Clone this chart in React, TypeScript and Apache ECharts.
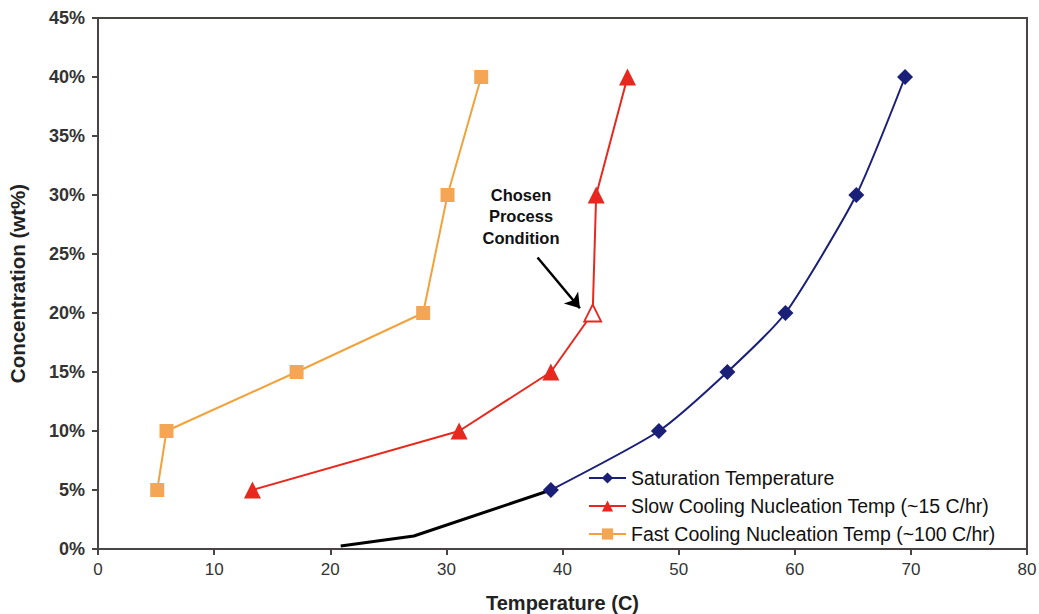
import React, { useEffect, useRef } from "react";
import * as echarts from "echarts";

const concentration = [5, 10, 15, 20, 30, 40];
const saturationTemp = [39.0, 48.3, 54.2, 59.2, 65.3, 69.5];
const slowCoolingTemp = [13.3, 31.1, 39.0, 42.6, 42.9, 45.6];
const fastCoolingTemp = [5.1, 5.9, 17.1, 28.0, 30.1, 33.0];
const extrapTemp = [20.9, 27.2, 39.0];
const extrapConc = [0.25, 1.1, 5];
const chosenIndex = 3;
const arrowFrom = [37.85, 24.7];
const arrowTo = [41.5, 20.4];
const xTicks = { min: 0, max: 80, interval: 10 };
const yTicks = { min: 0, max: 45, interval: 5 };

const NAVY = "#1a1f78";
const RED = "#e8281e";
const ORANGE = "#f2a23c";
const ORANGE_MK = "#f4a654";

export default function App() {
  const ref = useRef<HTMLDivElement>(null);
  useEffect(() => {
    document.body.style.margin = "0";
    const chart = echarts.init(ref.current!, null, { renderer: "svg" });
    const font = "Liberation Sans, Arial, sans-serif";
    chart.setOption({
      animation: false,
      backgroundColor: "#ffffff",
      grid: { left: 98, right: 12, top: 18, bottom: 65, containLabel: false, outerBoundsMode: "none", show: true, borderColor: "#4a4545", borderWidth: 2, backgroundColor: "transparent" },
      legend: {
        data: ["Saturation Temperature", "Slow Cooling Nucleation Temp (~15 C/hr)", "Fast Cooling Nucleation Temp (~100 C/hr)"],
        orient: "vertical",
        left: 583,
        top: 463,
        itemWidth: 37,
        itemHeight: 14,
        itemGap: 8,
        textStyle: { fontFamily: font, fontSize: 19.5, color: "#111" },
      },
      xAxis: {
        type: "value",
        min: xTicks.min,
        max: xTicks.max,
        interval: xTicks.interval,
        name: "Temperature (C)",
        nameLocation: "middle",
        nameGap: 44,
        nameTextStyle: { fontFamily: font, fontSize: 20, fontWeight: "bold", color: "#222" },
        axisLine: { lineStyle: { color: "#4a4545", width: 2 } },
        axisTick: { show: true, inside: false, length: 6, lineStyle: { color: "#4a4545", width: 2 } },
        axisLabel: { fontFamily: font, fontSize: 17, color: "#333", margin: 12 },
        splitLine: { show: false },
      },
      yAxis: {
        type: "value",
        min: yTicks.min,
        max: yTicks.max,
        interval: yTicks.interval,
        name: "Concentration (wt%)",
        nameLocation: "middle",
        nameGap: 70,
        nameTextStyle: { fontFamily: font, fontSize: 20.5, fontWeight: "bold", color: "#222" },
        axisLine: { lineStyle: { color: "#4a4545", width: 2 } },
        axisTick: { show: true, inside: false, length: 6, lineStyle: { color: "#4a4545", width: 2 } },
        axisLabel: { fontFamily: font, fontSize: 18, fontWeight: "bold", color: "#333", margin: 13, formatter: (v: number) => v + "%" },
        splitLine: { show: false },
      },
      series: [
        {
          name: "Extrapolated",
          type: "line",
          data: extrapTemp.map((t, i) => [t, extrapConc[i]]),
          showSymbol: false,
          symbol: "none",
          lineStyle: { color: "#000", width: 3 },
          z: 1,
        },
        {
          name: "Saturation Temperature",
          type: "line",
          data: saturationTemp.map((t, i) => [t, concentration[i]]),
          smooth: 0.2,
          symbol: "diamond",
          symbolSize: 16,
          itemStyle: { color: NAVY },
          lineStyle: { color: NAVY, width: 2 },
          z: 3,
        },
        {
          name: "Slow Cooling Nucleation Temp (~15 C/hr)",
          type: "line",
          data: slowCoolingTemp.map((t, i) =>
            i === chosenIndex
              ? { value: [t, concentration[i]], itemStyle: { color: "#fff", borderColor: RED, borderWidth: 1.8 } }
              : [t, concentration[i]]
          ),
          symbol: "triangle",
          symbolSize: 17,
          itemStyle: { color: RED },
          lineStyle: { color: RED, width: 2 },
          markLine: {
            silent: true,
            symbol: ["none", "arrow"],
            symbolSize: 14,
            label: { show: false },
            emphasis: { disabled: true },
            lineStyle: { color: "#000", width: 2.5, type: "solid" },
            itemStyle: { color: "#000" },
            data: [[{ coord: arrowFrom }, { coord: arrowTo }]],
          },
          z: 3,
        },
        {
          name: "Fast Cooling Nucleation Temp (~100 C/hr)",
          type: "line",
          data: fastCoolingTemp.map((t, i) => [t, concentration[i]]),
          symbol: "rect",
          symbolSize: 14,
          itemStyle: { color: ORANGE_MK },
          lineStyle: { color: ORANGE, width: 2 },
          z: 3,
        },
      ],
      graphic: [
        {
          type: "text",
          x: 521,
          y: 184,
          style: {
            text: "Chosen\nProcess\nCondition",
            fontFamily: font,
            fontSize: 16.5,
            fontWeight: "bold",
            fill: "#111",
            align: "center",
            verticalAlign: "top",
            lineHeight: 21.5,
          },
        },
      ],
    });
    return () => chart.dispose();
  }, []);
  return <div ref={ref} style={{ width: 1039, height: 614 }} />;
}
